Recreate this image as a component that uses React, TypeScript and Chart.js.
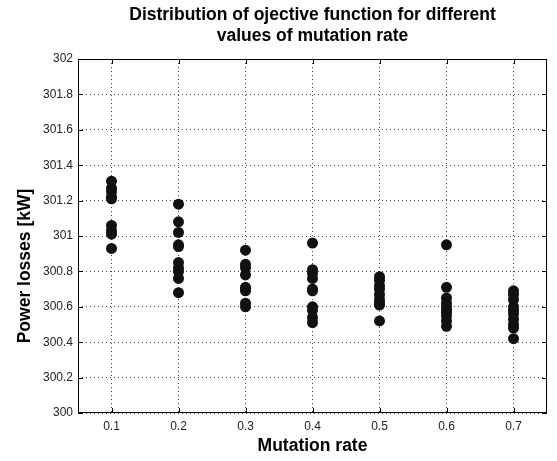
import React, { useEffect, useRef } from "react";
import { Chart, registerables } from "chart.js";

Chart.register(...registerables);

const mutationRates = [0.1, 0.2, 0.3, 0.4, 0.5, 0.6, 0.7];
const lossesRate01 = [301.31, 301.27, 301.25, 301.22, 301.21, 301.06, 301.03, 301.01, 300.93];
const lossesRate02 = [301.18, 301.08, 301.02, 300.95, 300.94, 300.85, 300.82, 300.8, 300.76, 300.68];
const lossesRate03 = [300.92, 300.84, 300.82, 300.78, 300.71, 300.7, 300.69, 300.62, 300.6];
const lossesRate04 = [300.96, 300.81, 300.79, 300.76, 300.7, 300.69, 300.6, 300.58, 300.54, 300.51];
const lossesRate05 = [300.77, 300.75, 300.72, 300.7, 300.67, 300.64, 300.62, 300.61, 300.52];
const lossesRate06 = [300.95, 300.71, 300.65, 300.62, 300.6, 300.58, 300.57, 300.55, 300.52, 300.49];
const lossesRate07 = [300.69, 300.67, 300.64, 300.6, 300.58, 300.56, 300.53, 300.5, 300.48, 300.42];
const allLosses = [lossesRate01, lossesRate02, lossesRate03, lossesRate04, lossesRate05, lossesRate06, lossesRate07];

const xTicks = [0.1, 0.2, 0.3, 0.4, 0.5, 0.6, 0.7];
const yTicks = [300, 300.2, 300.4, 300.6, 300.8, 301, 301.2, 301.4, 301.6, 301.8, 302];
const yAxisLabel = "Power losses [kW]";

const FONT = "Arial, Liberation Sans, Helvetica, sans-serif";

const boxPlugin = {
  id: "matlabBox",
  afterDraw(chart: any) {
    const { ctx, chartArea } = chart;
    const { left, right, top, bottom } = chartArea;
    ctx.save();
    ctx.strokeStyle = "#000";
    ctx.lineWidth = 1;
    ctx.setLineDash([]);
    ctx.strokeRect(left + 0.5, top + 0.5, right - left - 1, bottom - top - 1);
    const tl = 5;
    ctx.beginPath();
    const xs = chart.scales.x;
    xTicks.forEach((t) => {
      const px = Math.round(xs.getPixelForValue(t)) + 0.5;
      ctx.moveTo(px, bottom);
      ctx.lineTo(px, bottom - tl);
      ctx.moveTo(px, top);
      ctx.lineTo(px, top + tl);
    });
    const ys = chart.scales.y;
    yTicks.forEach((t) => {
      const py = Math.round(ys.getPixelForValue(t)) + 0.5;
      ctx.moveTo(left, py);
      ctx.lineTo(left + tl, py);
      ctx.moveTo(right, py);
      ctx.lineTo(right - tl, py);
    });
    ctx.stroke();
    // y-axis label
    ctx.translate(25, 266);
    ctx.rotate(-Math.PI / 2);
    ctx.fillStyle = "#000";
    ctx.font = "bold 17.5px " + FONT;
    ctx.textAlign = "center";
    ctx.textBaseline = "middle";
    ctx.fillText(yAxisLabel, 0, 0);
    ctx.restore();
  },
};

export default function App() {
  const ref = useRef<HTMLCanvasElement>(null);
  useEffect(() => {
    document.body.style.margin = "0";
    const points: { x: number; y: number }[] = [];
    mutationRates.forEach((r, i) => {
      allLosses[i].forEach((v) => points.push({ x: r, y: v }));
    });
    const chart = new Chart(ref.current!, {
      type: "scatter",
      data: {
        datasets: [
          {
            data: points,
            backgroundColor: "#111",
            borderColor: "#111",
            pointRadius: 5.5,
            pointHoverRadius: 5.5,
            borderWidth: 0,
          },
        ],
      },
      plugins: [boxPlugin],
      options: {
        animation: false,
        responsive: false,
        layout: { padding: { left: 0, right: 10, top: 0, bottom: 0 } },
        plugins: {
          legend: { display: false },
          tooltip: { enabled: false },
          title: {
            display: true,
            fullSize: false,
            text: ["Distribution of ojective function for different", "values of mutation rate"],
            color: "#000",
            font: { family: FONT, size: 17.5, weight: "bold", lineHeight: 1.2 },
            padding: { top: 5, bottom: 12 },
          },
        },
        scales: {
          x: {
            type: "linear",
            min: 0.05,
            max: 0.75,
            afterBuildTicks: (s: any) => {
              s.ticks = xTicks.map((v) => ({ value: v }));
            },
            afterFit: (s: any) => {
              s.height = 48;
            },
            grid: {
              color: "#444",
              lineWidth: 1,
              drawTicks: false,
              tickLength: 0,
            },
            border: { display: false, dash: [1, 3] },
            ticks: {
              color: "#222",
              padding: 6,
              font: { family: FONT, size: 12 },
              callback: (v: any) => String(parseFloat(Number(v).toFixed(2))),
            },
            title: {
              display: true,
              text: "Mutation rate",
              color: "#000",
              font: { family: FONT, size: 17.5, weight: "bold" },
              padding: { top: 0, bottom: 4 },
            },
          },
          y: {
            type: "linear",
            min: 300,
            max: 302,
            afterBuildTicks: (s: any) => {
              s.ticks = yTicks.map((v) => ({ value: v }));
            },
            afterFit: (s: any) => {
              s.width = 78;
            },
            grid: {
              color: "#444",
              lineWidth: 1,
              drawTicks: false,
              tickLength: 0,
            },
            border: { display: false, dash: [1, 3] },
            ticks: {
              color: "#222",
              padding: 5,
              font: { family: FONT, size: 12 },
              callback: (v: any) => String(parseFloat(Number(v).toFixed(1))),
            },
            title: { display: false },
          },
        },
      } as any,
    });
    return () => chart.destroy();
  }, []);
  return (
    <div style={{ position: "absolute", left: 0, top: 0, width: 557, height: 461, background: "#fff" }}>
      <canvas ref={ref} width={557} height={461} style={{ width: 557, height: 461 }} />
    </div>
  );
}
